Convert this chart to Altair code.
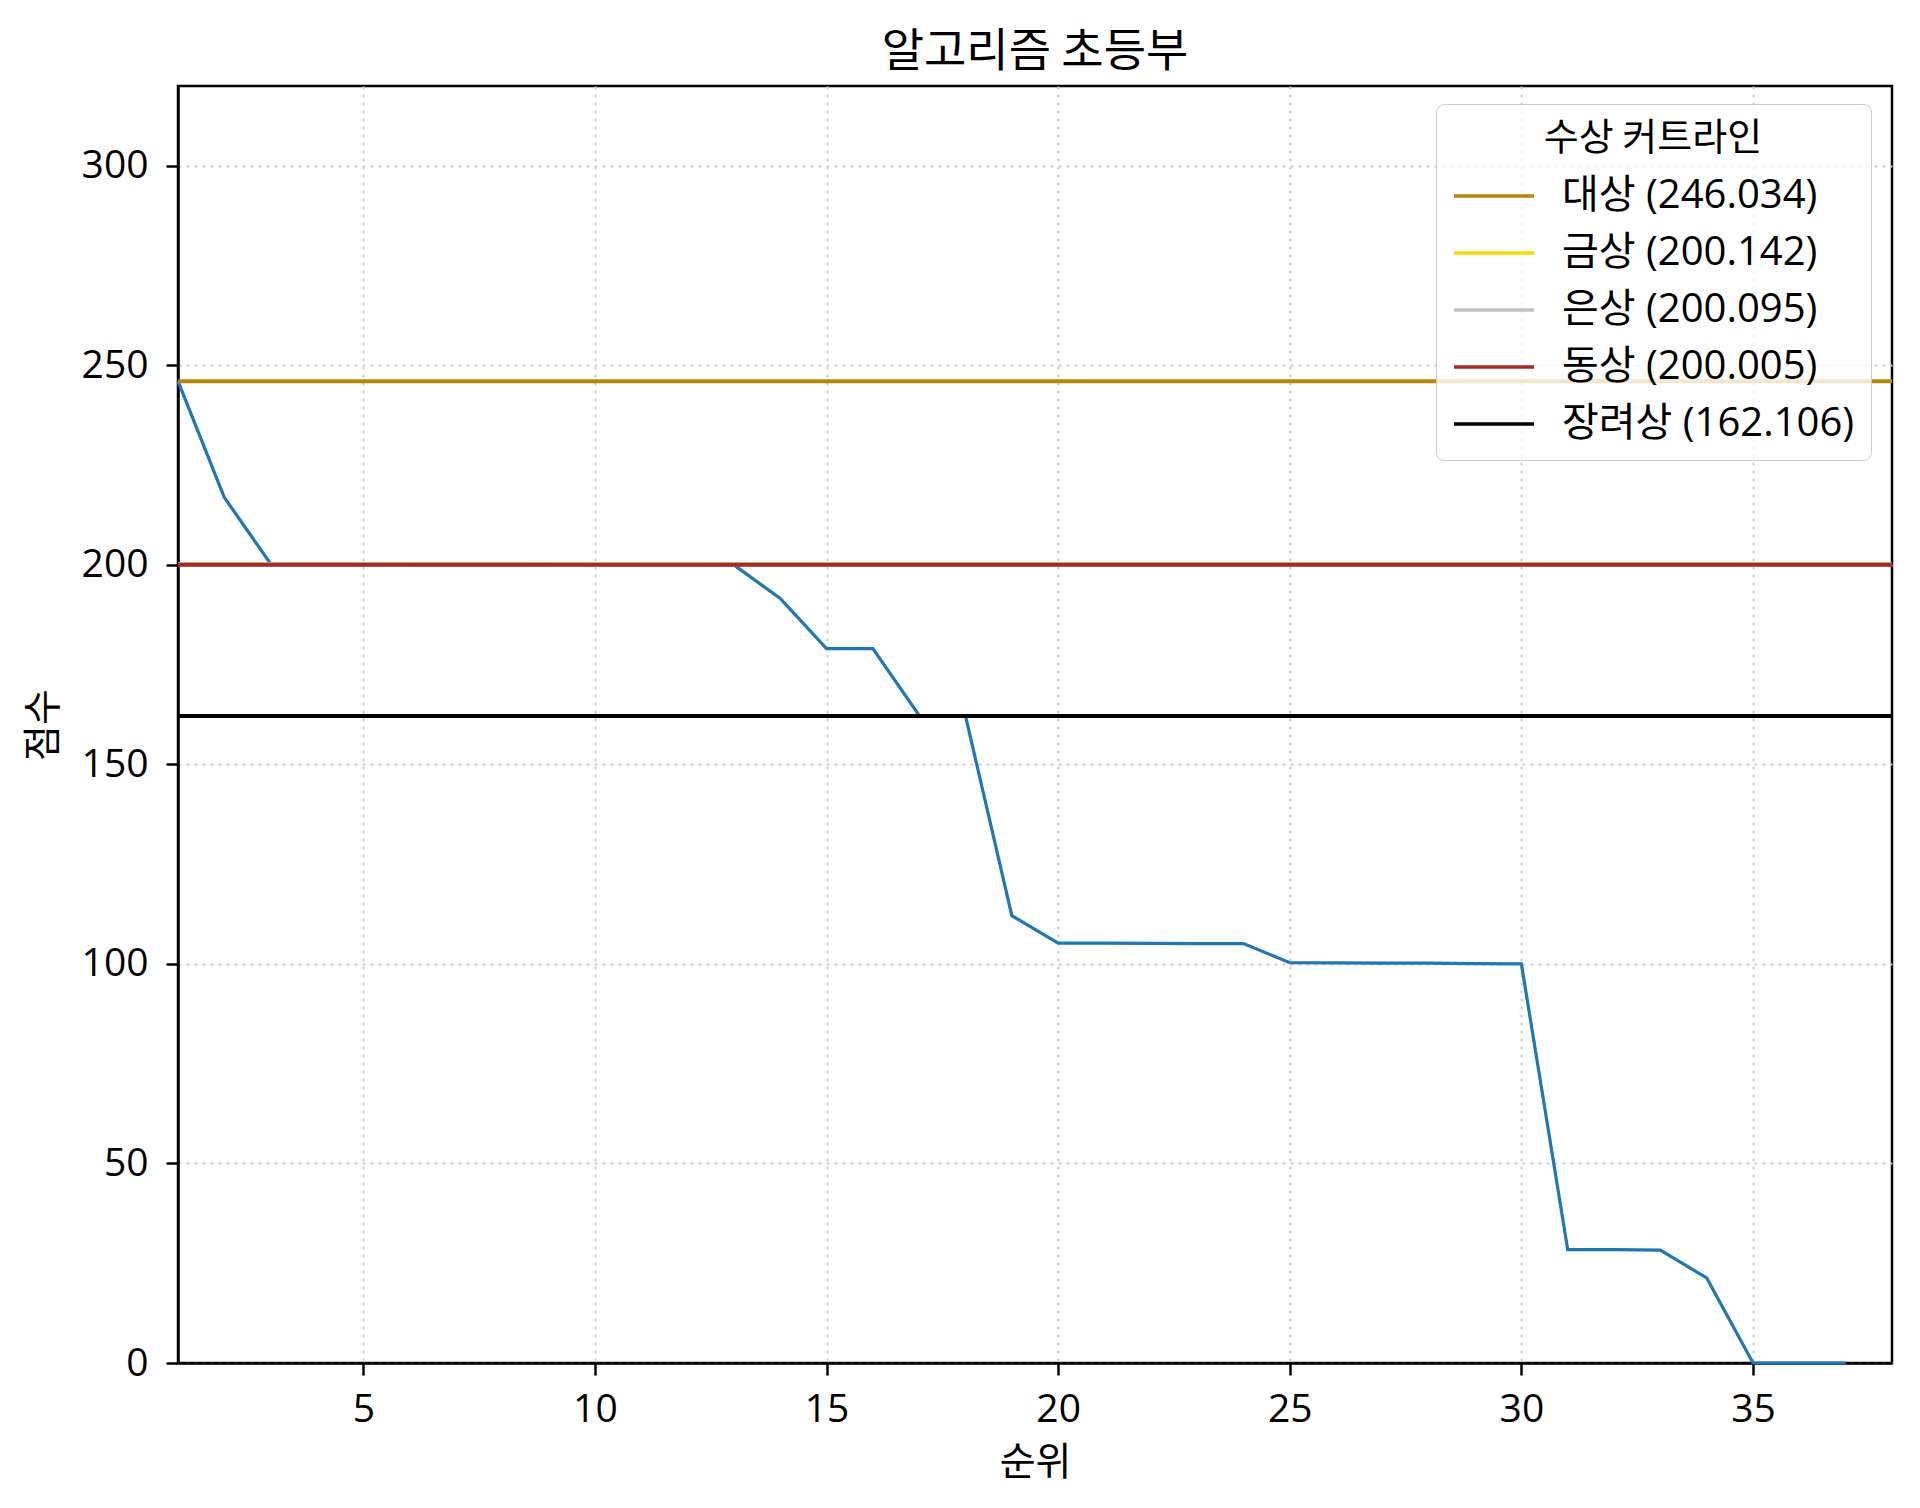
import altair as alt
import pandas as pd

# ---- data ----
ranks = list(range(1, 38))
scores = [246.034, 216.9, 200.25, 200.2, 200.18, 200.16, 200.142, 200.12, 200.095, 200.07,
          200.04, 200.02, 200.005, 191.6, 179.0, 179.0, 162.3, 162.106, 112.1, 105.2,
          105.2, 105.15, 105.1, 105.1, 100.3, 100.25, 100.2, 100.2, 100.1, 100.0,
          28.4, 28.4, 28.3, 21.3, 0.0, 0.0, 0.0]

award_names = ["대상", "금상", "은상", "동상", "장려상"]
cutoffs = [246.034, 200.142, 200.095, 200.005, 162.106]
award_colors = ["#B8860B", "#FFD700", "#C0C0C0", "#A52A2A", "#000000"]

FONT = "Noto Sans CJK KR"
NUMFONT = "Open Sans, Noto Sans CJK KR"

df = pd.DataFrame({"순위": ranks, "점수": scores})
labels = [f"{n} ({v:.3f})" for n, v in zip(award_names, cutoffs)]
cut_df = pd.DataFrame({"award": labels, "value": cutoffs, "order": list(range(len(labels)))})

x_scale = alt.Scale(domain=[1, 38], nice=False, zero=False)
y_scale = alt.Scale(domain=[0, 320], nice=False)

line = alt.Chart(df).mark_line(color="#1f77b4", strokeWidth=3.2).encode(
    x=alt.X("순위:Q", scale=x_scale,
            axis=alt.Axis(values=[5, 10, 15, 20, 25, 30, 35], title="순위",
                          labelPadding=15, titlePadding=14)),
    y=alt.Y("점수:Q", scale=y_scale,
            axis=alt.Axis(values=[0, 50, 100, 150, 200, 250, 300], title="점수",
                          labelPadding=18, titlePadding=18)),
)

rules = alt.Chart(cut_df).mark_rule(strokeWidth=4).encode(
    y=alt.Y("value:Q", scale=y_scale),
    color=alt.Color(
        "award:N",
        scale=alt.Scale(domain=labels, range=award_colors),
        legend=alt.Legend(
            title="수상 커트라인",
            orient="none",
            legendX=1258,
            legendY=18,
            padding=16,
            fillColor="rgba(255,255,255,0.8)",
            strokeColor="#cccccc",
            cornerRadius=8,
            symbolType="M-2,0H2",
            symbolSize=1600,
            symbolStrokeWidth=3.5,
            symbolOffset=20,
            labelOffset=46,
            labelLimit=600,
            titleLimit=600,
            labelFont=NUMFONT,
            labelFontSize=40,
            labelColor="black",
            titleFont=FONT,
            titleFontSize=38,
            titleFontWeight="normal",
            titleColor="black",
            titleAnchor="middle",
            titleAlign="center",
            titlePadding=16,
            rowPadding=15,
        ),
    ),
    order=alt.Order("order:Q"),
)

chart = alt.layer(line, rules).properties(
    width=1714,
    height=1277,
    title=alt.TitleParams("알고리즘 초등부", font=FONT, fontSize=46, fontWeight="normal",
                          color="black", offset=10),
    autosize=alt.AutoSizeParams(type="none"),
    padding={"left": 170, "top": 78, "right": 20, "bottom": 137},
).configure_view(
    stroke="black", strokeWidth=2.5
).configure_axis(
    labelFont=NUMFONT, labelFontSize=39, labelColor="black",
    titleFont=FONT, titleFontSize=39, titleFontWeight="normal", titleColor="black",
    tickColor="black", tickSize=12, tickWidth=2.5,
    domainColor="black", domainWidth=2.5,
    grid=True, gridColor="#cfcfcf", gridDash=[3, 5], gridWidth=2,
)

chart.save("out.html", embed_options={"renderer": "svg", "actions": False})
